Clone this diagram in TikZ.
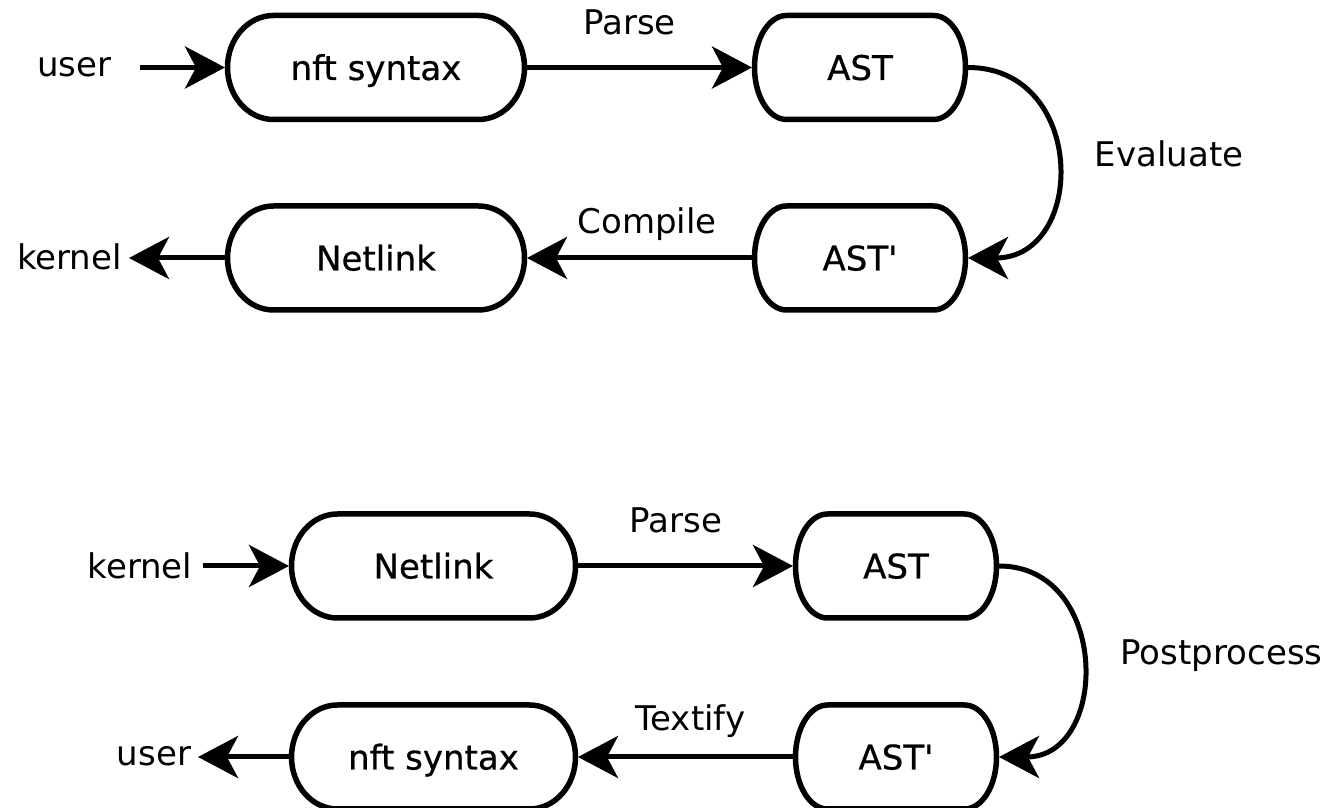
\documentclass[tikz,border=0pt]{standalone}
\usepackage{fontspec}
\setmainfont{DejaVu Sans}
\usetikzlibrary{arrows.meta,calc}
\tikzset{
  boxnode/.style={inner sep=0pt, outer sep=2.5pt, minimum height=104pt, text height=25pt, text depth=0pt, font=\fontsize{34}{40}\selectfont\addfontfeature{FakeBold=0.6}},
  boxline/.style={line width=5.5pt, line join=round},
  conn/.style={line width=5pt, -{Stealth[length=40pt,width=42pt,inset=11pt]}},
  lbl/.style={anchor=base, inner sep=0pt}
}
\newcommand\capsule[4]{%
  \draw[boxline] ($(#1.center)+(-#2+#4,#3)$) -- ($(#1.center)+(#2-#4,#3)$)
    arc[start angle=90,end angle=-90,x radius=#4pt,y radius=#3pt]
    -- ($(#1.center)+(-#2+#4,-#3)$)
    arc[start angle=270,end angle=90,x radius=#4pt,y radius=#3pt] -- cycle;}
\newcommand\prm{\textquotesingle}
\begin{document}
\begin{tikzpicture}[x=1pt,y=1pt,font=\fontsize{34}{40}\selectfont]
\useasboundingbox (0,0) rectangle (1330,808);
% top section
\node[boxnode, minimum width=297pt] (nftA) at (376,740.5) {nft syntax};
\node[boxnode, minimum width=211pt] (astA) at (860,740.5) {AST};
\node[boxnode, minimum width=211pt] (astpA) at (860,550) {AST\prm};
\node[boxnode, minimum width=297pt] (netA) at (376,550) {Netlink};
\capsule{nftA}{148.5}{52}{46}
\capsule{astA}{105.5}{52}{32}
\capsule{astpA}{105.5}{52}{32}
\capsule{netA}{148.5}{52}{46}
\node[lbl] (userA) at (74.5,731) {user};
\node[lbl] (kernelA) at (69.5,538) {kernel};
\node[lbl] (parseA) at (629.5,773) {Parse};
\node[lbl] (evalA) at (1169,641) {Evaluate};
\node[lbl] (compileA) at (647,574) {Compile};
\coordinate (uA) at (140,740.5);
\coordinate (kA) at (129,550);
\draw[conn] (uA) -- (nftA);
\draw[conn] (nftA.east) -- (astA.west);
\draw[conn] (astA.east) .. controls +(119,0) and +(119,0) .. (astpA.east);
\draw[conn] (astpA.west) -- (netA.east);
\draw[conn] (netA.west) -- (kA);
% bottom section
\node[boxnode, minimum width=284pt] (netB) at (433.5,242) {Netlink};
\node[boxnode, minimum width=201pt] (astB) at (896,242) {AST};
\node[boxnode, minimum width=201pt] (astpB) at (896,51) {AST\prm};
\node[boxnode, minimum width=284pt] (nftB) at (433.5,51) {nft syntax};
\capsule{netB}{142}{52}{46}
\capsule{astB}{100.5}{52}{32}
\capsule{astpB}{100.5}{52}{32}
\capsule{nftB}{142}{52}{46}
\node[lbl] (kernelB) at (140,229) {kernel};
\node[lbl] (parseB) at (676,275) {Parse};
\node[lbl] (postB) at (1221.5,143) {Postprocess};
\node[lbl] (textifyB) at (690.5,77) {Textify};
\node[lbl] (userB) at (154,42) {user};
\coordinate (kB) at (203,242);
\coordinate (uB) at (198,51);
\draw[conn] (kB) -- (netB);
\draw[conn] (netB.east) -- (astB.west);
\draw[conn] (astB.east) .. controls +(111,0) and +(111,0) .. (astpB.east);
\draw[conn] (astpB.west) -- (nftB.east);
\draw[conn] (nftB.west) -- (uB);
\end{tikzpicture}
\end{document}
